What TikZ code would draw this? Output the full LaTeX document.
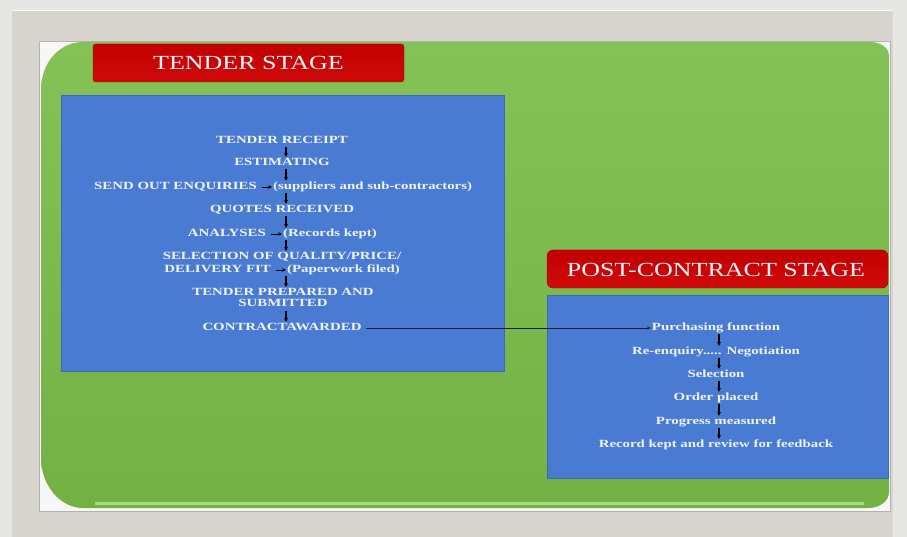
\documentclass[tikz,border=0pt]{standalone}
\usepackage{fontspec}
\setmainfont{Liberation Serif}
\newfontfamily\widefont{Liberation Serif}[FakeStretch=1.35]
\newfontfamily\titlefont{Liberation Serif}[FakeStretch=1.3]
\usetikzlibrary{arrows.meta}

\definecolor{pagegray}{HTML}{E6E6E4}
\definecolor{panelgray}{HTML}{D8D5CE}
\definecolor{framewhite}{HTML}{F7F7F7}
\definecolor{leaftop}{HTML}{84C257}
\definecolor{leafbottom}{HTML}{74B145}
\definecolor{leaflight}{HTML}{A4DC78}
\definecolor{stagered}{HTML}{D00A0A}
\definecolor{stagetop}{HTML}{C20000}
\definecolor{boxblue}{HTML}{4A7BD2}
\definecolor{boxedge}{HTML}{3F69B8}
\definecolor{steptext}{HTML}{F0F3FA}
\definecolor{linkline}{HTML}{14213D}

\begin{document}
\begin{tikzpicture}[x=1pt, y=-1pt,
    stepnode/.style={font=\widefont\bfseries\fontsize{11}{13}\selectfont, text=steptext,
      inner sep=1pt, text height=7.5pt, text depth=2.5pt},
    stepblock/.style={font=\widefont\bfseries\fontsize{11}{11}\selectfont, text=steptext,
      inner sep=1pt, align=center},
    stagetitle/.style={font=\titlefont\fontsize{20}{22}\selectfont, text=steptext, inner sep=0pt},
    stagebox/.style={top color=stagetop, bottom color=stagered, draw=stagetop!80!black, line width=0.4pt},
    panelbox/.style={fill=boxblue, draw=boxedge, line width=0.5pt},
    vstep/.style={-{Stealth[length=4pt, width=4pt]}, line width=1.1pt, black},
    hstep/.style={-{Stealth[length=4pt, width=3.5pt]}, line width=0.9pt, black, shorten <=4pt},
    link/.style={-{Stealth[length=4pt, width=3.5pt]}, line width=0.9pt, linkline, shorten <=3pt}]

  \useasboundingbox (0,0) rectangle (907,537);

  % background frame
  \fill[pagegray] (0,0) rectangle (907,537);
  \fill[panelgray] (12,10) rectangle (893,537);
  \draw[white!85!panelgray, line width=1pt] (12,11) -- (893,11);
  \fill[framewhite] (39,41) rectangle (890,511);
  \draw[gray!60, line width=0.4pt] (39,41) rectangle (890,511);

  % green board
  \path[top color=leaftop, bottom color=leafbottom]
    (83,42) -- (870,42) .. controls (881,42) and (889,48) .. (889,56)
    -- (889,492) .. controls (889,501) and (880,508) .. (868,508)
    -- (83,508) .. controls (60,508) and (41,485) .. (41,458)
    -- (41,90) .. controls (41,62) and (60,42) .. (83,42) -- cycle;
  \draw[leaflight, line width=3pt] (95,503) -- (864,503);

  % stage headers and panels
  \path[stagebox, rounded corners=3pt] (93,82) -- (93,44) -- (404,44) -- (404,82) -- cycle;
  \node[stagetitle] (tenderstage) at (248.5,63) {TENDER STAGE};
  \path[stagebox, rounded corners=6pt] (547,288) -- (547,250) -- (888,250) -- (888,288) -- cycle;
  \node[stagetitle] (poststage) at (716,269.5) {POST-CONTRACT STAGE};

  \path[panelbox] (61,95) rectangle (504,371);
  \path[panelbox] (547,295) rectangle (888,478);

  % tender stage steps
  \coordinate (col) at (286,0);
  \node[stepnode] (receipt) at (282,141) {TENDER RECEIPT};
  \node[stepnode] (estim) at (282,163) {ESTIMATING};
  \node[stepnode, anchor=east] (enq) at (258,187) {SEND OUT ENQUIRIES};
  \node[stepnode, anchor=west] (supp) at (272,187) {(suppliers and sub-contractors)};
  \node[stepnode] (quotes) at (282,210) {QUOTES RECEIVED};
  \node[stepnode, anchor=east] (anal) at (267,234) {ANALYSES};
  \node[stepnode, anchor=west] (recs) at (282,234) {(Records kept)};
  \node[stepnode] (sel) at (282,257) {SELECTION OF QUALITY/PRICE/};
  \node[stepnode, anchor=east] (fit) at (272,270) {DELIVERY FIT};
  \node[stepnode, anchor=west] (paper) at (286,270) {(Paperwork filed)};
  \node[stepblock] (prep) at (283,297.5) {TENDER PREPARED AND\\SUBMITTED};
  \node[stepnode] (award) at (282,328) {CONTRACTAWARDED};

  \draw[vstep] (receipt.south -| col) -- (estim.north -| col);
  \draw[vstep] (estim.south -| col) -- (supp.north -| col);
  \draw[vstep] (supp.south -| col) -- (quotes.north -| col);
  \draw[vstep] (quotes.south -| col) -- (recs.north -| col);
  \draw[vstep] (recs.south -| col) -- (sel.north -| col);
  \draw[vstep] (paper.south -| col) -- (prep.north -| col);
  \draw[vstep] ([yshift=-3pt]prep.south -| col) -- (award.north -| col);

  \draw[hstep] (enq) -- (supp);
  \draw[hstep] (anal) -- (recs);
  \draw[hstep] (fit) -- (paper);

  % post-contract stage steps
  \coordinate (col2) at (719,0);
  \node[stepnode] (purch) at (716,328) {Purchasing function};
  \node[stepnode] (reneg) at (716,352) {Re-enquiry..... Negotiation};
  \node[stepnode] (selec) at (716,375) {Selection};
  \node[stepnode] (order) at (716,398) {Order placed};
  \node[stepnode] (progr) at (716,422) {Progress measured};
  \node[stepnode] (record) at (716,445) {Record kept and review for feedback};

  \draw[vstep] (purch.south -| col2) -- (reneg.north -| col2);
  \draw[vstep] (reneg.south -| col2) -- (selec.north -| col2);
  \draw[vstep] (selec.south -| col2) -- (order.north -| col2);
  \draw[vstep] (order.south -| col2) -- (progr.north -| col2);
  \draw[vstep] (progr.south -| col2) -- (record.north -| col2);

  \draw[link] (award) -- (purch);
\end{tikzpicture}
\end{document}
